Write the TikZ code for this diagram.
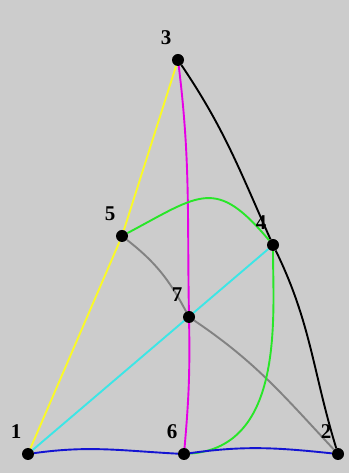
\documentclass[tikz,border=0pt]{standalone}
\usepackage{fontspec}
\setmainfont{Liberation Serif}
\usepackage{tikz}
\usetikzlibrary{positioning, backgrounds}
\usepackage{xcolor}
\definecolor{bggray}{RGB}{204,204,204}
\definecolor{yellowline}{RGB}{250,250,40}
\definecolor{cyanline}{RGB}{60,230,230}
\definecolor{magentaline}{RGB}{230,0,230}
\definecolor{greenline}{RGB}{40,230,40}
\definecolor{blueline}{RGB}{20,20,210}
\definecolor{grayline}{RGB}{130,130,130}
\tikzstyle{dot} = [circle, fill=black, minimum size=12pt, inner sep=0pt]
\tikzstyle{num} = [inner sep=0pt, font=\fontsize{21}{21}\selectfont\bfseries]
\tikzstyle{curve} = [line width=1.9pt]

\begin{document}
\begin{tikzpicture}[x=1pt, y=1pt]
  \useasboundingbox (0,0) rectangle (349,473);
  \node[dot] (p1) at (28,19) {};
  \node[dot] (p2) at (338,19) {};
  \node[dot] (p3) at (178,413) {};
  \node[dot] (p4) at (273,228) {};
  \node[dot] (p5) at (122,237) {};
  \node[dot] (p6) at (184,19) {};
  \node[dot] (p7) at (189,156) {};

  \node[num, above left=11pt and 2pt of p1] (l1) {1};
  \node[num, above left=11pt and 2pt of p2] (l2) {2};
  \node[num, above left=11pt and 2pt of p3] (l3) {3};
  \node[num, above left=11pt and 2pt of p4] (l4) {4};
  \node[num, above left=11pt and 2pt of p5] (l5) {5};
  \node[num, above left=11pt and 2pt of p6] (l6) {6};
  \node[num, above left=11pt and 2pt of p7] (l7) {7};

  \begin{scope}[on background layer]
    \fill[bggray] (0,0) rectangle (349,473);
    \draw[curve, yellowline] (p1) -- (p5) -- (p3);
    \draw[curve, cyanline] (p1) -- (p4);
    \draw[curve, grayline] (p5) to[out=-38,in=118] (p7) to[out=-34,in=133] (p2);
    \draw[curve, black] (p3) to[out=-56,in=114] (p4) to[out=-64,in=107] (p2);
    \draw[curve, magentaline] (p3) to[out=-83,in=91] (p7) to[out=-89,in=85] (p6);
    \draw[curve, greenline] (p5) to[out=28,in=130,looseness=1.5] (p4)
      to[out=-90,in=4,out looseness=0.75,in looseness=1.11] (p6);
    \draw[curve, blueline] (p1) to[out=8,in=177] (p6) to[out=8,in=174] (p2);
  \end{scope}
\end{tikzpicture}
\end{document}
